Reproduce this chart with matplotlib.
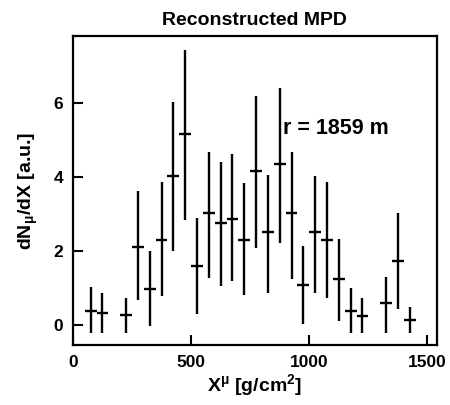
import matplotlib
matplotlib.use('Agg')
import matplotlib.pyplot as plt

plt.rcParams['font.family'] = ['Liberation Sans', 'DejaVu Sans']
plt.rcParams['font.weight'] = 'bold'
plt.rcParams['mathtext.fontset'] = 'custom'
plt.rcParams['mathtext.rm'] = 'Liberation Sans:bold'
plt.rcParams['mathtext.it'] = 'Liberation Sans:bold'
plt.rcParams['mathtext.bf'] = 'Liberation Sans:bold'

# bin centres [g/cm2] and half widths
x_centers = [75, 125, 225, 275, 325, 375, 425, 475, 525, 575, 625, 675, 725,
	775, 825, 875, 925, 975, 1025, 1075, 1125, 1175, 1225, 1325, 1375, 1425]
x_half = 25
# dN/dX values with lower / upper error ends
y_values = [0.38, 0.31, 0.25, 2.09, 0.96, 2.29, 4.02, 5.15, 1.59, 3.01, 2.74, 2.86, 2.29,
	4.14, 2.50, 4.33, 3.01, 1.07, 2.50, 2.29, 1.23, 0.38, 0.24, 0.58, 1.73, 0.13]
y_top = [1.03, 0.85, 0.71, 3.60, 2.00, 3.85, 6.03, 7.42, 2.88, 4.66, 4.41, 4.60, 3.84,
	6.19, 4.05, 6.40, 4.68, 2.13, 4.03, 3.85, 2.32, 0.98, 0.71, 1.30, 3.01, 0.47]
y_bottom = [-0.22, -0.22, -0.22, 0.67, -0.03, 0.78, 2.00, 2.83, 0.29, 1.25, 1.05, 1.18, 0.80,
	2.06, 0.86, 2.20, 1.24, 0.02, 0.85, 0.73, 0.10, -0.23, -0.23, -0.23, 0.42, -0.23]

err_low = [v - b for v, b in zip(y_values, y_bottom)]
err_high = [t - v for v, t in zip(y_values, y_top)]

fig = plt.figure(figsize=(4.5, 4.05), dpi=100)
ax = fig.add_axes([0.162, 0.148, 0.809, 0.763])

ax.errorbar(x_centers, y_values, xerr=x_half, yerr=[err_low, err_high],
	fmt='none', ecolor='black', elinewidth=1.7, capsize=0)

ax.set_xlim(0, 1540)
ax.set_ylim(-0.55, 7.8)
ax.set_xticks([0, 500, 1000, 1500])
ax.set_yticks([0, 2, 4, 6])
ax.tick_params(direction='in', length=7, width=1.5, labelsize=12.5, pad=7)
for spine in ax.spines.values():
	spine.set_linewidth(1.6)

ax.set_title('Reconstructed MPD', fontsize=14, fontweight='bold', pad=8)
ax.set_xlabel('X$^{\\mathrm{μ}}$ [g/cm$^{\\mathrm{2}}$]', fontsize=14, fontweight='bold', labelpad=2)
ax.set_ylabel('dN$_{\\mathrm{μ}}$/dX [a.u.]', fontsize=14, fontweight='bold', labelpad=10)
ax.text(888, 5.29, 'r = 1859 m', fontsize=15.5, fontweight='bold', va='center', ha='left')

fig.savefig('out.png', dpi=100)
